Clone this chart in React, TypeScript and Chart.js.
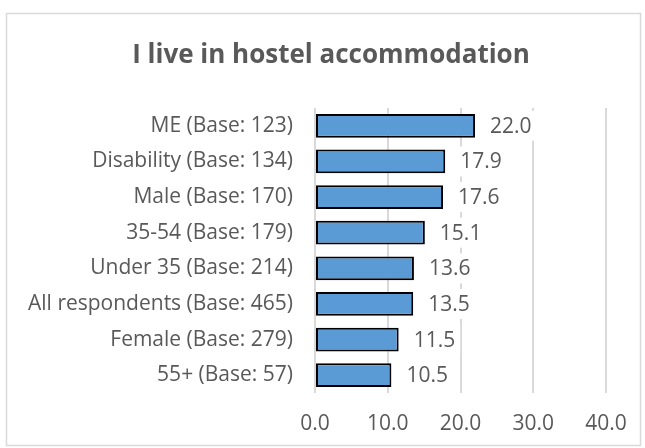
import React, { useEffect, useRef } from "react";
import { Chart, registerables } from "chart.js";

Chart.register(...registerables);

const TITLE = "I live in hostel accommodation";
const categories = [
  "ME (Base: 123)",
  "Disability (Base: 134)",
  "Male (Base: 170)",
  "35-54 (Base: 179)",
  "Under 35 (Base: 214)",
  "All respondents (Base: 465)",
  "Female (Base: 279)",
  "55+ (Base: 57)",
];
const values = [22.0, 17.9, 17.6, 15.1, 13.6, 13.5, 11.5, 10.5];
const xTicks = [0, 10, 20, 30, 40];

const FONT = "'Open Sans', 'Liberation Sans', sans-serif";
const TEXT = "#595959";

export default function App() {
  const ref = useRef<HTMLCanvasElement | null>(null);
  useEffect(() => {
    if (!ref.current) return;
    const decor = {
      id: "decor",
      beforeDraw(chart: any) {
        const ctx = chart.ctx;
        ctx.save();
        ctx.fillStyle = "#fff";
        ctx.fillRect(0, 0, chart.width, chart.height);
        ctx.strokeStyle = "#d9d9d9";
        ctx.lineWidth = 1.5;
        ctx.strokeRect(6.5, 13.5, 634, 432);
        ctx.fillStyle = TEXT;
        ctx.font = `bold 26px ${FONT}`;
        ctx.textAlign = "center";
        ctx.textBaseline = "alphabetic";
        ctx.fillText(TITLE, 331, 63);
        ctx.restore();
      },
      afterDatasetsDraw(chart: any) {
        const ctx = chart.ctx;
        const meta = chart.getDatasetMeta(0);
        ctx.save();
        ctx.font = `21px ${FONT}`;
        ctx.textBaseline = "middle";
        ctx.textAlign = "left";
        meta.data.forEach((bar: any, i: number) => {
          const txt = values[i].toFixed(1);
          const x = bar.x + 15;
          const w = ctx.measureText(txt).width;
          ctx.fillStyle = "#fff";
          ctx.fillRect(x - 5, bar.y - 15, w + 10, 30);
          ctx.fillStyle = TEXT;
          ctx.fillText(txt, x, bar.y + 1);
        });
        ctx.restore();
      },
    };
    const chart = new Chart(ref.current, {
      type: "bar",
      data: {
        labels: categories,
        datasets: [
          {
            data: values,
            backgroundColor: "#5B9BD5",
            borderColor: "#000",
            borderWidth: 2,
            borderSkipped: false,
            barPercentage: 0.67,
            categoryPercentage: 1,
          },
        ],
      },
      options: {
        indexAxis: "y",
        animation: false,
        responsive: false,
        layout: { padding: { left: 0, right: 39, top: 108, bottom: 0 } },
        plugins: { legend: { display: false }, title: { display: false }, tooltip: { enabled: false } },
        scales: {
          x: {
            min: 0,
            max: 40,
            afterBuildTicks(scale: any) {
              scale.ticks = xTicks.map((v) => ({ value: v }));
            },
            afterFit(scale: any) {
              scale.height = 55;
            },
            ticks: {
              padding: 18,
              color: TEXT,
              font: { family: FONT, size: 21 },
              callback: (v: any) => Number(v).toFixed(1),
            },
            grid: { color: "#d9d9d9", lineWidth: 2, drawTicks: false },
            border: { display: false },
          },
          y: {
            afterFit(scale: any) {
              scale.width = 315;
            },
            ticks: {
              padding: 22,
              color: TEXT,
              font: { family: FONT, size: 21 },
            },
            grid: { display: false, drawTicks: false },
            border: { display: false },
          },
        },
      },
      plugins: [decor],
    });
    return () => chart.destroy();
  }, []);
  return (
    <div style={{ position: "fixed", left: 0, top: 0, width: 645, height: 448 }}>
      <canvas ref={ref} width={645} height={448} style={{ width: 645, height: 448 }} />
    </div>
  );
}
